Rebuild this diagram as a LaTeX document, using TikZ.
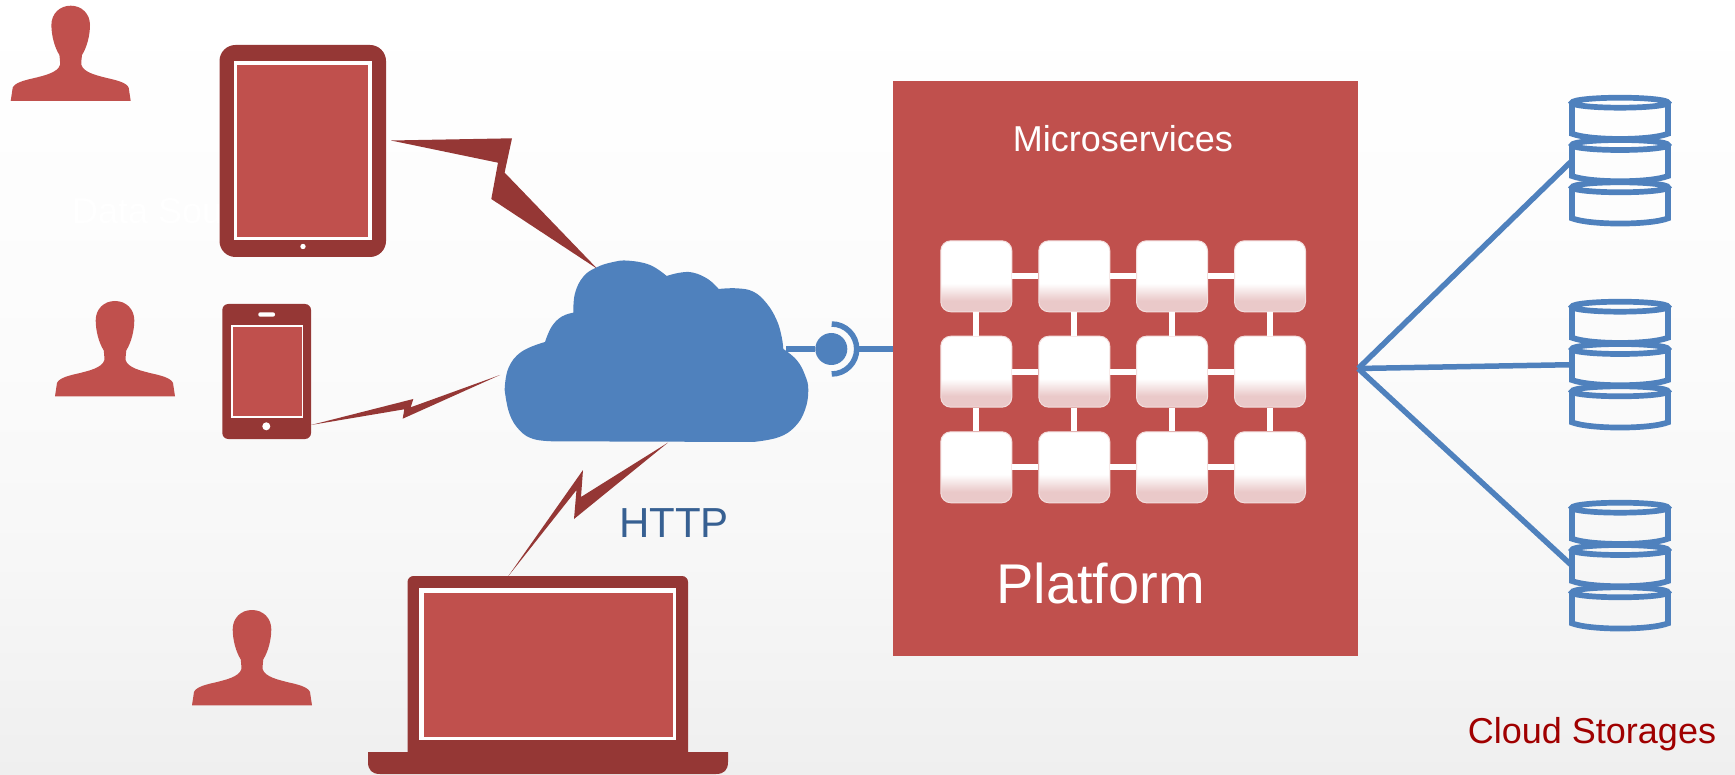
\documentclass[tikz,border=0pt]{standalone}
\usepackage{fontspec}
\setmainfont{Liberation Sans}
\definecolor{brickred}{HTML}{C0504D}
\definecolor{darkbrick}{HTML}{953735}
\definecolor{cloudblue}{HTML}{4F81BD}
\definecolor{httpblue}{HTML}{376092}
\definecolor{storagered}{HTML}{A00000}
\definecolor{tilepink}{HTML}{EAC9C9}
\definecolor{tileedge}{HTML}{F3DEDD}
\definecolor{paperA}{HTML}{EFEFEF}
\definecolor{paperB}{HTML}{F7F7F7}
\definecolor{paperC}{HTML}{FBFBFB}
\definecolor{paperD}{HTML}{FDFDFD}
\pgfdeclareverticalshading{tilefade}{100bp}{color(0bp)=(tilepink); color(33bp)=(tilepink); color(45bp)=(white); color(100bp)=(white)}
\pgfdeclareverticalshading{paperfade}{100bp}{color(0bp)=(paperA); color(25bp)=(paperA); color(39bp)=(paperB); color(52bp)=(paperC); color(62bp)=(paperD); color(75bp)=(white); color(100bp)=(white)}
\tikzset{
	tile/.style={rounded corners=10pt, minimum size=71pt, inner sep=0pt, shade, shading=tilefade, draw=tileedge, line width=1pt},
	tilelink/.style={white, line width=6pt},
	wire/.style={cloudblue, line width=5.5pt},
	bolt/.style={fill=darkbrick},
	bigtext/.style={font=\fontsize{36}{40}\selectfont},
	person/.pic={
		\fill[brickred] (-60,95.3) -- (-58,82) .. controls (-56,77) and (-46,74.5) .. (-37,72.5)
			.. controls (-27,70) and (-13,67) .. (-10.7,59.3) .. controls (-10.5,55) and (-11,52) .. (-11.3,49.3)
			.. controls (-16,42) and (-19.3,30) .. (-19.3,19.3) .. controls (-19.3,8) and (-11,0) .. (0,0)
			.. controls (11,0) and (19.3,8) .. (19.3,19.3) .. controls (19.3,30) and (16,42) .. (11.3,49.3)
			.. controls (11,52) and (10.5,55) .. (10.7,59.3) .. controls (13,67) and (27,70) .. (37,72.5)
			.. controls (46,74.5) and (56,77) .. (58,82) -- (60,95.3) -- cycle;
	},
	can/.pic={
		\draw[cloudblue, line width=5.7pt] (-48,0) -- (-48,31) .. controls (-30,38) and (30,38) .. (48,31) -- (48,0);
		\draw[cloudblue, line width=5.7pt] (0,0) circle[x radius=48, y radius=5];
	},
	storage/.pic={
		\pic at (0,0) {can};
		\pic at (0,42.3) {can};
		\pic at (0,84.6) {can};
		\coordinate (-port) at (-48,58);
	}
}
\begin{document}
\begin{tikzpicture}[x=1pt, y=-1pt, line cap=butt, line join=miter]
	\useasboundingbox (0,0) rectangle (1735,775);
	\shade[shading=paperfade] (0,0) rectangle (1735,775);
	% users
	\pic at (70.7,5.7) {person};
	\pic at (115,301) {person};
	\pic at (252,610) {person};
	\node[white, bigtext, anchor=west] (sources) at (68.5,211.5) {Data Sources};
	% tablet
	\fill[darkbrick, rounded corners=16pt] (219.5,45) rectangle (386,257);
	\fill[white] (234,61) rectangle (372,240);
	\fill[brickred] (237,65) rectangle (368,237);
	\fill[white] (303,246.5) circle (2.7);
	% phone
	\fill[darkbrick, rounded corners=6pt] (222.3,304) rectangle (311,439);
	\fill[white] (231,324.7) rectangle (303.3,418);
	\fill[brickred] (232.7,326.7) rectangle (301.7,416);
	\fill[white, rounded corners=2pt] (258.3,312.3) rectangle (275,316.7);
	\fill[white] (266.3,426.3) circle (4);
	% laptop
	\fill[darkbrick, rounded corners=6pt] (407.5,576) rectangle (688,760);
	\fill[darkbrick] (368,752) -- (368,762) .. controls (368,770) and (372,774) .. (380,774) -- (716,774) .. controls (724,774) and (728,770) .. (728,762) -- (728,752) -- cycle;
	\fill[white] (419,588) rectangle (676,740);
	\fill[brickred] (424,593) rectangle (673,737);
	% radio links
	\fill[bolt] (391,140.5) -- (512,138.3) -- (504.6,172.6) -- (597.5,269) -- (491.3,199) -- (498,162.7) -- cycle;
	\fill[bolt] (311,425) -- (413.3,399) -- (410.7,407.3) -- (500,375) -- (402.7,418.7) -- (404.3,409.3) -- cycle;
	\fill[bolt] (508,576.5) -- (583,470) -- (581,497) -- (668,442.6) -- (574,519) -- (576.5,490) -- cycle;
	% cloud
	\begin{scope}[shift={(480,240)}, x=0.3333pt, y=-0.3333pt]
		\fill[cloudblue] plot[smooth, tension=0.7] coordinates {(74,450) (85,385) (125,335) (195,306)}
			-- plot[smooth, tension=0.7] coordinates {(195,306) (215,260) (245,230) (280,218)}
			-- plot[smooth, tension=0.7] coordinates {(280,218) (285,160) (310,110) (350,82) (400,66) (445,62) (510,75) (560,108)}
			-- plot[smooth, tension=0.7] coordinates {(560,108) (600,98) (640,98) (685,118) (716,147)}
			-- plot[smooth, tension=0.7] coordinates {(716,147) (770,145) (820,155) (860,190) (890,240) (905,290) (910,327)}
			-- plot[smooth, tension=0.7] coordinates {(910,327) (950,360) (975,405) (985,450) (975,510) (945,560) (895,592) (820,606)}
			-- (220,604)
			-- plot[smooth, tension=0.7] coordinates {(220,604) (160,597) (118,570) (88,520) (74,450)} -- cycle;
	\end{scope}
	\node[text=httpblue, font=\fontsize{42}{46}\selectfont] (http) at (674,523) {HTTP};
	% platform
	\node[fill=brickred, minimum width=465pt, minimum height=575pt, inner sep=0pt] (platform) at (1125.5,368.5) {};
	\node[white, bigtext] (micro) at (1123,139) {Microservices};
	\node[white, font=\fontsize{56}{60}\selectfont] (platformtext) at (1100.5,583) {Platform};
	\foreach \y [count=\r] in {276.3,371.7,467.3}
		\foreach \x [count=\c] in {976.3,1074.3,1172,1270}
			\node[tile] (tile-\r-\c) at (\x,\y) {};
	\foreach \r in {1,2,3}
		\foreach \c/\n in {1/2,2/3,3/4}
			\draw[tilelink] (tile-\r-\c) -- (tile-\r-\n);
	\foreach \c in {1,2,3,4}
		\foreach \r/\n in {1/2,2/3}
			\draw[tilelink] (tile-\r-\c) -- (tile-\n-\c);
	% socket between cloud and platform
	\coordinate (cloudport) at (786,349);
	\coordinate (socketout) at (859,349);
	\node[circle, fill=cloudblue, minimum size=32pt, inner sep=0pt] (socket) at (831.3,349) {};
	\draw[wire] (cloudport) -- (socket);
	\draw[cloudblue, line width=5.5pt] (831.7,324) arc[start angle=90, end angle=-90, radius=25pt];
	\draw[wire] (socketout) -- (platform.west |- socketout);
	% storages
	\pic (storeA) at (1620,102.7) {storage};
	\pic (storeB) at (1620,306.7) {storage};
	\pic (storeC) at (1620,507.7) {storage};
	\draw[wire] (platform.east) -- (storeA-port);
	\draw[wire] (platform.east) -- (storeB-port);
	\draw[wire] (platform.east) -- (storeC-port);
	\node[storagered, bigtext] (cloudstorages) at (1592,734) {Cloud Storages};
\end{tikzpicture}
\end{document}
